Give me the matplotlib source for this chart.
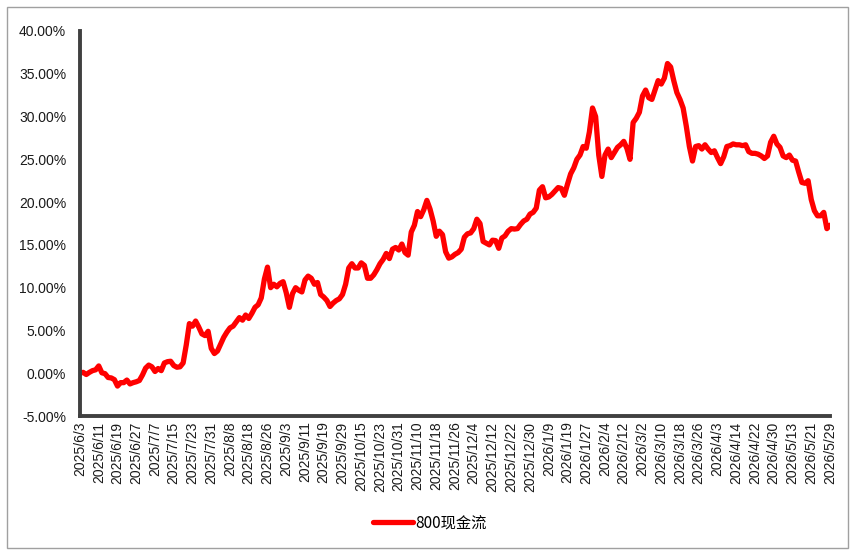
import matplotlib
matplotlib.use("Agg")
import matplotlib.pyplot as plt
from matplotlib.patches import Rectangle

plt.rcParams['font.family'] = ['Liberation Sans', 'DejaVu Sans']

# 每隔6个交易日的横轴日期标签
tick_dates = [
    '2025/6/3', '2025/6/11', '2025/6/19', '2025/6/27', '2025/7/7', '2025/7/15',
    '2025/7/23', '2025/7/31', '2025/8/8', '2025/8/18', '2025/8/26', '2025/9/3',
    '2025/9/11', '2025/9/19', '2025/9/29', '2025/10/15', '2025/10/23', '2025/10/31',
    '2025/11/10', '2025/11/18', '2025/11/26', '2025/12/4', '2025/12/12', '2025/12/22',
    '2025/12/30', '2026/1/9', '2026/1/19', '2026/1/27', '2026/2/4', '2026/2/12',
    '2026/3/2', '2026/3/10', '2026/3/18', '2026/3/26', '2026/4/3', '2026/4/14',
    '2026/4/22', '2026/4/30', '2026/5/13', '2026/5/21', '2026/5/29',
]
tick_step = 6

# 800现金流 累计收益 (%)，按交易日
cum_2025 = [
    0.0, 0.1, -0.15, 0.1, 0.3, 0.4, 0.85, 0.05, -0.05, -0.5,
    -0.55, -0.75, -1.5, -1.1, -1.1, -0.8, -1.25, -1.1, -1.0, -0.85,
    -0.2, 0.6, 0.95, 0.75, 0.2, 0.55, 0.3, 1.2, 1.35, 1.4,
    0.9, 0.7, 0.75, 1.2, 3.3, 5.8, 5.5, 6.1, 5.4, 4.6,
    4.4, 4.9, 2.9, 2.3, 2.6, 3.4, 4.2, 4.8, 5.3, 5.5,
    6.0, 6.5, 6.2, 6.8, 6.4, 7.0, 7.7, 8.0, 8.8, 11.0,
    12.4, 10.0, 10.4, 10.1, 10.5, 10.7, 9.4, 7.7, 9.3, 10.0,
    9.7, 9.5, 10.9, 11.35, 11.1, 10.4, 10.6, 9.2, 8.9, 8.5,
    7.8, 8.2, 8.5, 8.7, 9.2, 10.4, 12.3, 12.8, 12.3, 12.3,
    12.9, 12.6, 11.1, 11.1, 11.5, 12.1, 12.8, 13.3, 14.0, 13.4,
    14.5, 14.7, 14.4, 15.1, 14.1, 13.8, 16.5, 17.3, 18.9, 18.3,
    19.1, 20.2, 19.2, 17.8, 16.0, 16.6, 16.2, 14.2, 13.45, 13.6,
    13.9, 14.1, 14.5, 15.9, 16.3, 16.4, 16.9, 18.0, 17.5, 15.4,
    15.2, 15.0, 15.55, 15.5, 14.6, 15.8, 16.05, 16.6, 16.9, 16.85,
    16.9, 17.4, 17.8, 18.0, 18.6, 18.8,
]
cum_2026 = [
    19.3, 21.4, 21.8, 20.5,
    20.6, 20.9, 21.3, 21.7, 21.6, 20.8, 22.1, 23.3, 24.0, 25.0,
    25.5, 26.5, 26.3, 28.2, 31.0, 30.0, 25.5, 23.0, 25.5, 26.2,
    25.2, 25.8, 26.4, 26.7, 27.1, 26.3, 25.0, 29.3, 29.8, 30.5,
    32.4, 33.1, 32.2, 32.0, 33.1, 34.2, 33.8, 34.5, 36.2, 35.8,
    34.2, 32.8, 32.0, 31.0, 28.9, 26.5, 24.8, 26.5, 26.6, 26.2,
    26.7, 26.2, 25.8, 26.0, 25.2, 24.5, 25.3, 26.5, 26.6, 26.8,
    26.7, 26.7, 26.6, 26.7, 25.9, 25.7, 25.7, 25.6, 25.4, 25.1,
    25.4, 27.0, 27.7, 26.8, 26.4, 25.4, 25.2, 25.5, 24.9, 24.8,
    23.5, 22.3, 22.2, 22.5, 20.3, 19.0, 18.4, 18.4, 18.8, 16.9, 17.3,
]
values = cum_2025 + cum_2026
series_name = '800现金流'

fig = plt.figure(figsize=(8.54, 5.55), dpi=100)
fig.patches.append(Rectangle((7 / 854, 7 / 555), 841 / 854, 541 / 555,
                             transform=fig.transFigure, fill=False,
                             edgecolor='#a0a0a0', linewidth=1))
ax = fig.add_axes([80 / 854, 1 - 416 / 555, 750 / 854, 385 / 555])

ax.plot(range(len(values)), values, color='#ff0000', linewidth=3.8,
        solid_joinstyle='round', solid_capstyle='round', label=series_name)

ax.set_xlim(0, len(values) - 1)
ax.set_ylim(-5, 40)
ax.set_yticks(range(-5, 41, 5))
ax.set_yticklabels([f'{v:.2f}%' for v in range(-5, 41, 5)])
ax.set_xticks(range(0, len(values), tick_step))
ax.set_xticklabels(tick_dates, rotation=90)

for side in ['top', 'right']:
    ax.spines[side].set_visible(False)
for side in ['left', 'bottom']:
    ax.spines[side].set_color('#404040')
    ax.spines[side].set_linewidth(2.8)
ax.tick_params(axis='y', length=0, pad=10, labelsize=10, labelcolor='#1a1a1a')
ax.tick_params(axis='x', length=0, pad=4, labelsize=10, labelcolor='#1a1a1a')

leg = fig.legend(loc='center', bbox_to_anchor=(430 / 854, 1 - 523 / 555),
                 frameon=False, handlelength=2.6, handletextpad=0.15,
                 prop={'family': ['Noto Sans CJK SC', 'DejaVu Sans'], 'size': 11})

fig.savefig('out.png', dpi=100)
